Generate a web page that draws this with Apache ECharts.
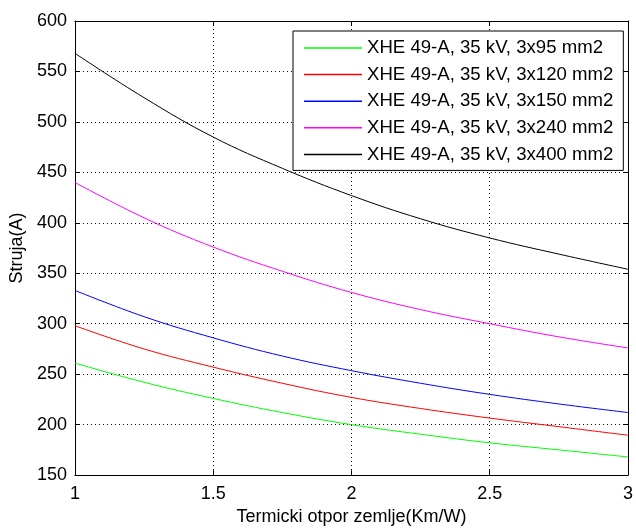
<!DOCTYPE html>
<html>
<head>
<meta charset="utf-8">
<script src="https://cdn.jsdelivr.net/npm/echarts@6/dist/echarts.min.js"></script>
<style>html,body{margin:0;padding:0;background:#fff;}#c{width:636px;height:531px;}</style>
</head>
<body>
<div id="c"></div>
<script>
const xValues = [1, 1.25, 1.5, 1.75, 2, 2.25, 2.5, 2.75, 3];
const seriesNames = [
  'XHE 49-A, 35 kV, 3x95 mm2',
  'XHE 49-A, 35 kV, 3x120 mm2',
  'XHE 49-A, 35 kV, 3x150 mm2',
  'XHE 49-A, 35 kV, 3x240 mm2',
  'XHE 49-A, 35 kV, 3x400 mm2'
];
const s95  = [261, 242, 226, 212, 200, 190.5, 182, 175, 168];
const s120 = [298, 275, 257, 241, 227, 216, 206.5, 198, 189.5];
const s150 = [333, 307, 286, 268, 253.5, 241, 230, 220.5, 212];
const s240 = [440, 405, 376, 352, 331, 314, 300, 287, 276];
const s400 = [568, 524, 485, 454, 427, 404, 385, 369, 354];
const colors = ['#00ff00', '#ff0000', '#0000ff', '#ff00ff', '#000000'];
const allSeries = [s95, s120, s150, s240, s400];

const font = 'Arial, "Liberation Sans", sans-serif';
const chart = echarts.init(document.getElementById('c'), null, {renderer: 'canvas'});
const axisCommon = {
  axisLine: {show: true, onZero: false, lineStyle: {color: '#000', width: 1}},
  axisTick: {show: true, inside: true, length: 5, lineStyle: {color: '#000'}}
};
chart.setOption({
  animation: false,
  backgroundColor: '#fff',
  textStyle: {fontFamily: font},
  grid: {left: 74, right: 5, top: 21, bottom: 49, containLabel: false},
  xAxis: [
    Object.assign({
      type: 'value', min: 1, max: 3, interval: 0.5, position: 'bottom',
      name: 'Termicki otpor zemlje(Km/W)', nameLocation: 'middle', nameGap: 30,
      nameTextStyle: {fontSize: 18, color: '#000', fontFamily: font},
      axisLabel: {fontSize: 18, color: '#000', margin: 10, fontFamily: font},
      splitLine: {show: true, lineStyle: {color: '#000', type: [1, 3], width: 1}}
    }, axisCommon),
    Object.assign({
      type: 'value', min: 1, max: 3, interval: 0.5, position: 'top',
      axisLabel: {show: false}, splitLine: {show: false}
    }, axisCommon)
  ],
  yAxis: [
    Object.assign({
      type: 'value', min: 150, max: 600, interval: 50, position: 'left',
      name: 'Struja(A)', nameLocation: 'middle', nameGap: 48,
      nameTextStyle: {fontSize: 18, color: '#000', fontFamily: font},
      axisLabel: {fontSize: 18, color: '#000', margin: 8, fontFamily: font},
      splitLine: {show: true, lineStyle: {color: '#000', type: [1, 3], width: 1}}
    }, axisCommon),
    Object.assign({
      type: 'value', min: 150, max: 600, interval: 50, position: 'right',
      axisLabel: {show: false}, splitLine: {show: false}
    }, axisCommon)
  ],
  legend: {
    orient: 'vertical', left: 293, top: 31,
    backgroundColor: '#fff', borderColor: '#000', borderWidth: 1,
    padding: [7, 10, 6, 11],
    itemWidth: 58, itemHeight: 1.5, itemGap: 6.6,
    icon: 'rect',
    textStyle: {fontSize: 18.6, color: '#000', lineHeight: 20, fontFamily: font},
    data: seriesNames
  },
  series: allSeries.map((arr, i) => ({
    name: seriesNames[i],
    type: 'line',
    xAxisIndex: 0, yAxisIndex: 0,
    data: xValues.map((x, j) => [x, arr[j]]),
    smooth: 0.4,
    showSymbol: false,
    symbol: 'none',
    lineStyle: {color: colors[i], width: 1},
    itemStyle: {color: colors[i]},
    z: 3
  }))
});
</script>
</body>
</html>
